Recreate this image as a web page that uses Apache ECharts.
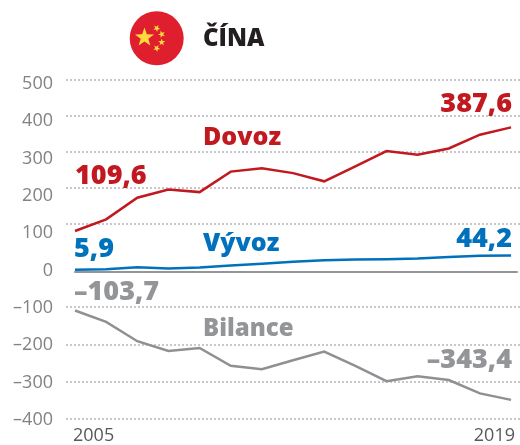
<!DOCTYPE html>
<html>
<head>
<meta charset="utf-8">
<style>html,body{margin:0;padding:0;background:#fff}#chart{width:520px;height:445px}</style>
<script src="https://cdn.jsdelivr.net/npm/echarts@6/dist/echarts.min.js"></script>
</head>
<body>
<div id="chart"></div>
<script>
const years = [2005,2006,2007,2008,2009,2010,2011,2012,2013,2014,2015,2016,2017,2018,2019];
const dovoz = [109.6,141,199,221,214,269,278,265,243,283,324,314,331,368,387.6];
const vyvoz = [5.9,7,12.5,9,11.5,17,22,27,31,33,34,35.6,40,43,44.2];
const bilance = [-103.7,-134,-186,-212,-204,-252,-261,-237,-214,-252,-293,-280,-290,-326,-343.4];
const yearLabels = [2005, 2019];

const RED = '#c1191f', BLUE = '#0071bc', GRAY = '#939598';
const FONT = '"Open Sans"';

const myChart = echarts.init(document.getElementById('chart'), null, { renderer: 'canvas' });

function pairs(values) {
  return values.map(function (v, i) { return [years[i], v]; });
}

function lineSeries(name, values, color) {
  return {
    name: name,
    type: 'line',
    data: pairs(values),
    symbol: 'none',
    silent: true,
    z: 5,
    lineStyle: { color: color, width: 2.5, join: 'miter' }
  };
}

function star(cx, cy, r, rot) {
  const pts = [];
  for (let i = 0; i < 10; i++) {
    const a = rot - Math.PI / 2 + i * Math.PI / 5;
    const d = i % 2 ? r * 0.4 : r;
    pts.push([cx + d * Math.cos(a), cy + d * Math.sin(a)]);
  }
  return { type: 'polygon', shape: { points: pts }, style: { fill: '#fedb3d' }, z: 11 };
}

function note(text, anchorX, y, color, size, align) {
  return {
    type: 'text',
    x: anchorX,
    y: y,
    z: 12,
    style: {
      text: text, fill: color, align: align || 'left', verticalAlign: 'middle',
      font: '800 ' + size + 'px ' + FONT
    }
  };
}

const dottedGrid = { show: true, lineStyle: { color: '#b5b6b8', type: [2, 2], width: 1.5 } };

function gridAxis(index, min, max) {
  return {
    type: 'value', gridIndex: index, min: min, max: max, interval: 100,
    axisLine: { show: false }, axisTick: { show: false }, axisLabel: { show: false },
    splitLine: dottedGrid
  };
}

function hiddenX(index) {
  return { type: 'value', gridIndex: index, min: 0, max: 1, show: false };
}

const option = {
  animation: false,
  backgroundColor: '#fff',
  grid: [
    { left: 75, top: 85.5, width: 442, height: 335.5 },
    { left: 66, top: 80, right: 0, height: 144, z: 0 },
    { left: 66, top: 307, right: 0, height: 112, z: 0 },
    { left: 73, top: 85.5, width: 442, height: 335.5 },
    { left: 0, top: 84, width: 53, height: 336 }
  ],
  xAxis: [
    {
      type: 'value', gridIndex: 0, min: 2005, max: 2019.19, position: 'bottom',
      axisLine: { show: false, onZero: false }, axisTick: { show: false },
      axisLabel: { show: false }, splitLine: { show: false }
    },
    {
      type: 'value', gridIndex: 0, min: 2005, max: 2019.19,
      axisLine: { show: true, onZero: true, lineStyle: { color: GRAY, width: 2 } },
      axisTick: { show: false }, axisLabel: { show: false }, splitLine: { show: false }
    },
    hiddenX(1),
    hiddenX(2),
    {
      type: 'value', gridIndex: 3, min: 2005, max: 2019, position: 'bottom',
      axisLine: { show: false, onZero: false }, axisTick: { show: false }, splitLine: { show: false },
      axisLabel: {
        customValues: yearLabels, color: '#58595b', fontFamily: FONT, fontSize: 18, margin: 9,
        alignMinLabel: 'left', alignMaxLabel: 'right',
        formatter: function (v) { return String(v); }
      }
    },
    hiddenX(4)
  ],
  yAxis: [
    {
      type: 'value', gridIndex: 0, min: -400, max: 500, interval: 100, show: false
    },
    gridAxis(1, 100, 500),
    gridAxis(2, -400, -100),
    {
      type: 'value', gridIndex: 3, min: 0, max: 1, show: false
    },
    {
      type: 'value', gridIndex: 4, min: -400, max: 500, interval: 100, position: 'right',
      axisLine: { show: false }, axisTick: { show: false }, splitLine: { show: false },
      axisLabel: {
        inside: true, margin: 0, color: '#808285', fontFamily: FONT, fontSize: 18,
        formatter: function (v) { return String(v).replace('-', '–'); }
      }
    }
  ],
  series: [
    lineSeries('Dovoz', dovoz, RED),
    lineSeries('Vývoz', vyvoz, BLUE),
    lineSeries('Bilance', bilance, '#8f9093')
  ],
  graphic: [
    { type: 'circle', shape: { cx: 156.7, cy: 38.3, r: 27 }, style: { fill: '#df1f2d' }, z: 10 },
    star(144.5, 37.5, 10, 0),
    star(156.7, 28.3, 3.7, 0.5),
    star(161.7, 34.3, 3.7, 0.9),
    star(161.7, 42.3, 3.7, 0),
    star(156.7, 48.3, 3.7, 0.5),
    note('ČÍNA', 203, 39, '#231f20', 24),
    note('Dovoz', 203, 138, RED, 25),
    note('Vývoz', 203, 244, BLUE, 25),
    note('Bilance', 203, 329, GRAY, 24),
    note('109,6', 75, 176, RED, 27),
    note('387,6', 512, 104, RED, 27, 'right'),
    note('5,9', 74, 249, BLUE, 27),
    note('44,2', 512, 239, BLUE, 27, 'right'),
    note('–103,7', 74, 292, GRAY, 27),
    note('–343,4', 512, 360, GRAY, 27, 'right')
  ]
};

myChart.setOption(option);
</script>
</body>
</html>
